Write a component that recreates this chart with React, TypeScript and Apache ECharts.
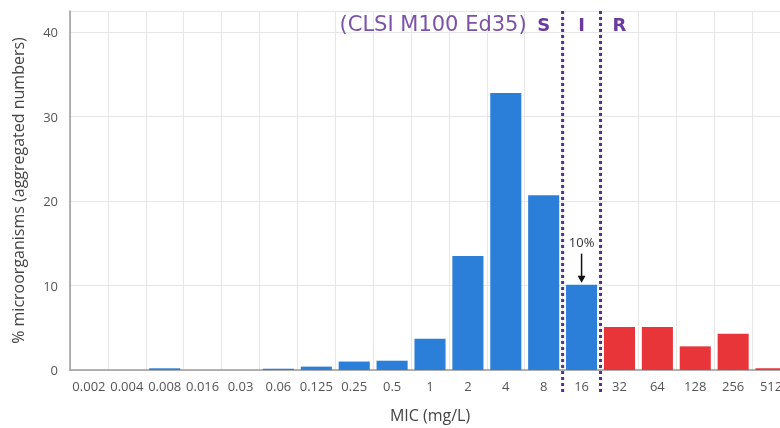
import React, { useEffect, useRef } from "react";
import * as echarts from "echarts";

const categories = ["0.002", "0.004", "0.008", "0.016", "0.03", "0.06", "0.125", "0.25", "0.5", "1", "2", "4", "8", "16", "32", "64", "128", "256", "512"];
const percentValues = [0, 0, 0.2, 0, 0, 0.15, 0.4, 1.0, 1.1, 3.7, 13.5, 32.8, 20.7, 10.1, 5.1, 5.1, 2.8, 4.3, 0.2];
const yTicks = [0, 10, 20, 30, 40];
const susceptibleUpTo = "8";
const intermediateAt = "16";
const resistantFrom = "32";
const annotatedCategory = "16";
const annotationText = "10%";
const breakpointSource = "(CLSI M100 Ed35)";

const BLUE = "#2b7fd9";
const RED = "#e8353a";
const PURPLE_DOT = "#5c2d91";
const PURPLE_TEXT = "#7a52a8";
const PURPLE_BOLD = "#6b3a9e";
const FONT = "'Open Sans', sans-serif";

export default function App() {
  const ref = useRef<HTMLDivElement>(null);
  useEffect(() => {
    if (!ref.current) return;
    const chart = echarts.init(ref.current, null, { renderer: "svg" });
    const rIdx = categories.indexOf(resistantFrom);
    chart.setOption({
      animation: false,
      grid: { left: 70, right: 0, top: 11, bottom: 58, containLabel: false },
      xAxis: {
        type: "category",
        data: categories,
        boundaryGap: true,
        name: "MIC (mg/L)",
        nameLocation: "middle",
        nameGap: 37,
        nameTextStyle: { fontFamily: FONT, fontSize: 16, color: "#444" },
        axisLine: { show: true, lineStyle: { color: "#9a9a9a", width: 1.5 } },
        axisTick: { show: false },
        axisLabel: { interval: 0, margin: 9, fontFamily: FONT, fontSize: 13, color: "#555" },
        splitLine: { show: true, interval: 0, lineStyle: { color: "#e6e6e6", width: 1 } },
      },
      yAxis: {
        type: "value",
        min: 0,
        max: 42.5,
        interval: 10,
        name: "% microorganisms (aggregated numbers)",
        nameLocation: "middle",
        nameGap: 44,
        nameTextStyle: { fontFamily: FONT, fontSize: 16, color: "#444" },
        axisLine: { show: true, lineStyle: { color: "#9a9a9a", width: 1.5 } },
        axisTick: { show: false },
        axisLabel: {
          margin: 12,
          fontFamily: FONT,
          fontSize: 13,
          color: "#555",
          formatter: (v: number) => (yTicks.includes(v) ? String(v) : ""),
        },
        splitLine: { show: true, lineStyle: { color: "#e6e6e6", width: 1 } },
      },
      series: [
        {
          type: "bar",
          data: percentValues.map((v, i) => ({
            value: v,
            itemStyle: { color: i >= rIdx ? RED : BLUE },
          })),
          barCategoryGap: "18%",
        },
      ],
    });

    const xp = (c: string) => chart.convertToPixel({ xAxisIndex: 0 }, c) as number;
    const yp = (v: number) => chart.convertToPixel({ yAxisIndex: 0 }, v) as number;
    const sIdx = categories.indexOf(susceptibleUpTo);
    const iIdx = categories.indexOf(intermediateAt);
    const xS = xp(susceptibleUpTo);
    const xI = xp(intermediateAt);
    const xR = xp(resistantFrom);
    const b1 = (xp(categories[sIdx]) + xp(categories[sIdx + 1])) / 2;
    const b2 = (xp(categories[iIdx]) + xp(categories[iIdx + 1])) / 2;
    const yTop = yp(42.5);
    const y0 = yp(0);
    const xA = xp(annotatedCategory);
    const yA = yp(percentValues[categories.indexOf(annotatedCategory)]);

    const dotLine = (x: number) => ({
      type: "line",
      shape: { x1: x, y1: yTop, x2: x, y2: y0 + 22 },
      style: { stroke: PURPLE_DOT, lineWidth: 3, lineDash: [3, 3] },
      z: 10,
    });

    const labelStyle = { fontFamily: "'DejaVu Sans', sans-serif", fontSize: 18, fontWeight: "bold", fill: PURPLE_BOLD, align: "center", verticalAlign: "middle" };

    chart.setOption({
      graphic: [
        dotLine(b1),
        dotLine(b2),
        {
          type: "text",
          x: xS - 17,
          y: yTop + 13,
          style: { text: breakpointSource, fontFamily: "'DejaVu Sans', sans-serif", fontSize: 21, fill: PURPLE_TEXT, align: "right", verticalAlign: "middle" },
          z: 10,
        },
        { type: "text", x: xS, y: yTop + 13, style: { text: "S", ...labelStyle }, z: 10 },
        { type: "text", x: xI, y: yTop + 13, style: { text: "I", ...labelStyle }, z: 10 },
        { type: "text", x: xR, y: yTop + 13, style: { text: "R", ...labelStyle }, z: 10 },
        {
          type: "text",
          x: xA,
          y: yA - 43,
          style: { text: annotationText, fontFamily: FONT, fontSize: 13, fill: "#333", align: "center", verticalAlign: "middle" },
          z: 10,
        },
        {
          type: "line",
          shape: { x1: xA, y1: yA - 31, x2: xA, y2: yA - 6 },
          style: { stroke: "#111", lineWidth: 1.5 },
          z: 10,
        },
        {
          type: "polygon",
          shape: { points: [[xA - 4, yA - 9], [xA + 4, yA - 9], [xA, yA - 2]] },
          style: { fill: "#111" },
          z: 10,
        },
      ],
    });

    return () => chart.dispose();
  }, []);
  return (
    <div style={{ position: "fixed", left: 0, top: 0, width: 780, height: 428, overflow: "hidden" }}>
      <div ref={ref} style={{ width: 790, height: 428 }} />
    </div>
  );
}
